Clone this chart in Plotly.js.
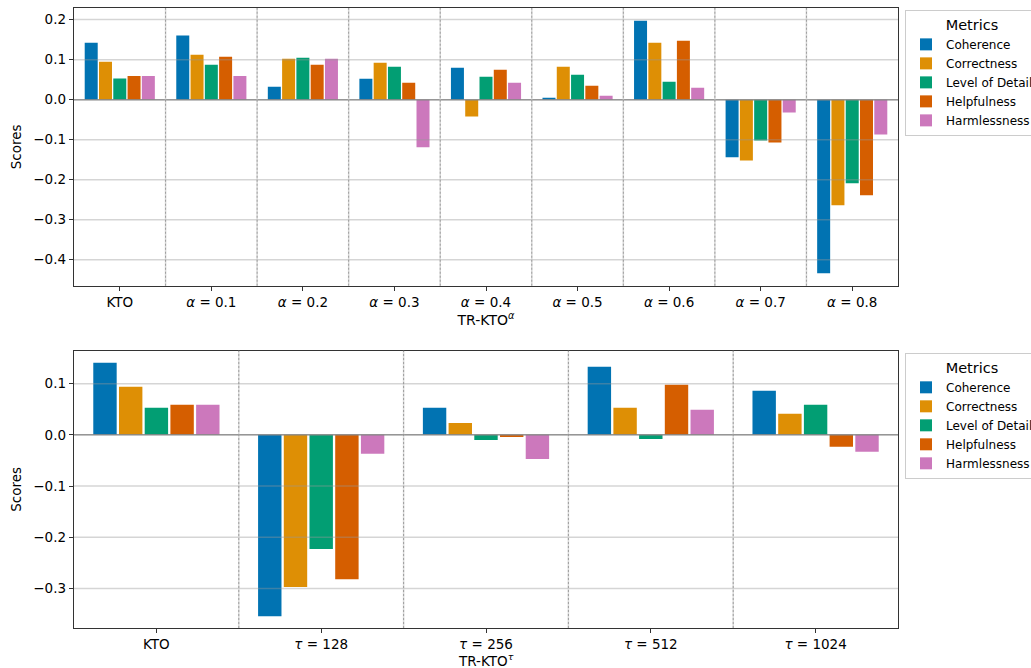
<!DOCTYPE html>
<html>
<head>
<meta charset="utf-8">
<script src="https://cdn.plot.ly/plotly-3.0.1.min.js"></script>
<style>
  html, body { margin: 0; padding: 0; background: #fff; }
  #chart { width: 1031px; height: 668px; }
</style>
</head>
<body>
<div id="chart"></div>
<script>
// ---------- data ----------
const metrics = ["Coherence", "Correctness", "Level of Detail", "Helpfulness", "Harmlessness"];
const colors = ["#0173B2", "#DE8F05", "#029E73", "#D55E00", "#CC78BC"];

const alphaCats = ["KTO", "<i>α</i> = 0.1", "<i>α</i> = 0.2", "<i>α</i> = 0.3", "<i>α</i> = 0.4",
                   "<i>α</i> = 0.5", "<i>α</i> = 0.6", "<i>α</i> = 0.7", "<i>α</i> = 0.8"];
const alphaCoherence    = [0.142, 0.160, 0.032, 0.052, 0.080, 0.005, 0.197, -0.144, -0.434];
const alphaCorrectness  = [0.095, 0.112, 0.102, 0.092, -0.042, 0.082, 0.142, -0.152, -0.264];
const alphaDetail       = [0.053, 0.087, 0.105, 0.082, 0.057, 0.062, 0.045, -0.102, -0.209];
const alphaHelpfulness  = [0.059, 0.107, 0.087, 0.042, 0.075, 0.035, 0.147, -0.107, -0.239];
const alphaHarmlessness = [0.059, 0.059, 0.102, -0.119, 0.042, 0.010, 0.030, -0.032, -0.087];

const tauCats = ["KTO", "<i>τ</i> = 128", "<i>τ</i> = 256", "<i>τ</i> = 512", "<i>τ</i> = 1024"];
const tauCoherence    = [0.141, -0.354, 0.053, 0.133, 0.086];
const tauCorrectness  = [0.094, -0.297, 0.023, 0.053, 0.041];
const tauDetail       = [0.053, -0.223, -0.010, -0.008, 0.059];
const tauHelpfulness  = [0.059, -0.282, -0.004, 0.098, -0.023];
const tauHarmlessness = [0.059, -0.037, -0.047, 0.049, -0.033];

const alphaSeries = [alphaCoherence, alphaCorrectness, alphaDetail, alphaHelpfulness, alphaHarmlessness];
const tauSeries = [tauCoherence, tauCorrectness, tauDetail, tauHelpfulness, tauHarmlessness];

const alphaTicks = [-0.4, -0.3, -0.2, -0.1, 0.0, 0.1, 0.2];
const tauTicks = [-0.3, -0.2, -0.1, 0.0, 0.1];

const alphaTitle = "TR-KTO<sup><i>α</i></sup>";
const tauTitle = "TR-KTO<sup><i>τ</i></sup>";

// ---------- traces ----------
const traces = [];
metrics.forEach((m, i) => {
  traces.push({
    type: "bar", name: m, x: alphaCats, y: alphaSeries[i],
    xaxis: "x", yaxis: "y", marker: { color: colors[i], line: { width: 0 } },
    legend: "legend", hoverinfo: "x+y+name"
  });
});
metrics.forEach((m, i) => {
  traces.push({
    type: "bar", name: m, x: tauCats, y: tauSeries[i],
    xaxis: "x2", yaxis: "y2", marker: { color: colors[i], line: { width: 0 } },
    legend: "legend2", hoverinfo: "x+y+name"
  });
});

// ---------- shapes: grid (over bars), zero line, separators ----------
const shapes = [];
function addGrid(yref, xref, ticks, nCats) {
  ticks.forEach(t => {
    shapes.push({ type: "line", xref: xref + " domain", yref: yref, x0: 0, x1: 1, y0: t, y1: t,
      line: { color: "rgba(150,150,150,0.4)", width: 1.5 }, layer: "above" });
  });
  shapes.push({ type: "line", xref: xref + " domain", yref: yref, x0: 0, x1: 1, y0: 0, y1: 0,
    line: { color: "rgba(128,128,128,0.75)", width: 1.5 }, layer: "above" });
  for (let i = 0; i < nCats - 1; i++) {
    shapes.push({ type: "line", xref: xref, yref: yref + " domain", x0: i + 0.5, x1: i + 0.5, y0: 0, y1: 1,
      line: { color: "rgba(200,200,200,0.7)", width: 1.5 }, layer: "above" });
    shapes.push({ type: "line", xref: xref, yref: yref + " domain", x0: i + 0.5, x1: i + 0.5, y0: 0, y1: 1,
      line: { color: "rgba(110,110,110,0.55)", width: 1, dash: "2px,2px" }, layer: "above" });
  }
}
addGrid("y", "x", alphaTicks, alphaCats.length);
addGrid("y2", "x2", tauTicks, tauCats.length);

const font = { family: "DejaVu Sans, sans-serif", color: "#000" };
const tickFont = { family: "DejaVu Sans, sans-serif", size: 13.5, color: "#000" };
const axisTitleFont = { family: "DejaVu Sans, sans-serif", size: 14, color: "#000" };

function xAx(anchor, title, standoff) {
  return {
    anchor: anchor, type: "category", showgrid: false, zeroline: false,
    showline: true, mirror: true, linecolor: "#333", linewidth: 1.2,
    ticks: "outside", ticklen: 4, tickcolor: "#333", tickfont: tickFont,
    title: { text: title, font: axisTitleFont, standoff: standoff }, automargin: false
  };
}
function yAx(anchor, domain, range, ticks) {
  return {
    anchor: anchor, domain: domain, range: range, tickvals: ticks, tickformat: ".1f",
    showgrid: false, zeroline: false, showline: true, mirror: true, linecolor: "#333", linewidth: 1.2,
    ticks: "outside", ticklen: 4, tickcolor: "#333", tickfont: tickFont,
    title: { text: "Scores", font: { family: "DejaVu Sans, sans-serif", size: 13.5, color: "#000" }, standoff: 8 },
    automargin: false
  };
}

const legendBase = {
  title: { text: "Metrics", side: "top center", font: { family: "DejaVu Sans, sans-serif", size: 14.5, color: "#000" } },
  font: { family: "DejaVu Sans, sans-serif", size: 12, color: "#000" },
  bgcolor: "rgba(255,255,255,0.9)", bordercolor: "#ccc", borderwidth: 1,
  xref: "container", yref: "container",
  xanchor: "left", yanchor: "top", tracegroupgap: 0, itemwidth: 30
};

const layout = {
  width: 1031, height: 668,
  margin: { l: 74, r: 133, t: 8, b: 40 },
  paper_bgcolor: "#fff", plot_bgcolor: "#fff",
  font: font,
  barmode: "group", bargap: 0.22, bargroupgap: 0.09,
  xaxis: xAx("y", alphaTitle, 2),
  yaxis: yAx("x", [0.552, 1.0], [-0.465, 0.229], alphaTicks),
  xaxis2: xAx("y2", "", 7),
  yaxis2: yAx("x2", [0.0, 0.447], [-0.377, 0.164], tauTicks),
  legend: Object.assign({}, legendBase, { x: 0.8778, y: 0.985 }),
  legend2: Object.assign({}, legendBase, { x: 0.8778, y: 0.4716 }),
  annotations: [{
    text: tauTitle, xref: "x2 domain", yref: "paper", x: 0.5, y: -0.0339,
    xanchor: "center", yanchor: "top", showarrow: false,
    font: { family: "DejaVu Sans, sans-serif", size: 13.5, color: "#000" }
  }],
  shapes: shapes,
  showlegend: true
};

Plotly.newPlot("chart", traces, layout, { displayModeBar: false, staticPlot: true });
</script>
</body>
</html>
